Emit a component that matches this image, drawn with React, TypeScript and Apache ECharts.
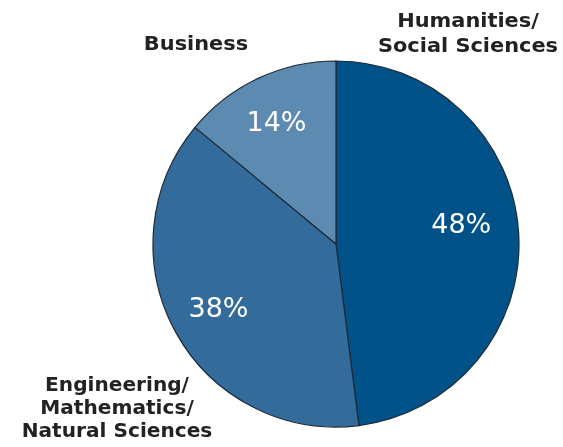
import React, { useEffect, useRef } from "react";
import * as echarts from "echarts";

const categories = ["Humanities/\nSocial Sciences", "Engineering/\nMathematics/\nNatural Sciences", "Business"];
const values = [48, 38, 14];
const colors = ["#02528a", "#336b9b", "#5c8ab0"];

export default function App() {
  const ref = useRef<HTMLDivElement>(null);
  useEffect(() => {
    const chart = echarts.init(ref.current!, null, { renderer: "svg" });
    const data = categories.map((c, i) => ({ name: c, value: values[i], itemStyle: { color: colors[i] } }));
    const labelFont = { fontFamily: "DejaVu Sans", fontWeight: "bold", fontSize: 19, fill: "#222", lineHeight: 24 };
    const labelOffsets = [[-12, -12], [3, -3], [-1, 2]];
    chart.setOption({
      animation: false,
      graphic: [
        { type: "text", x: 468, y: 8, scaleX: 1.1, style: { ...labelFont, text: categories[0], textAlign: "center", lineHeight: 25 } },
        { type: "text", x: 117, y: 373, scaleX: 1.06, style: { ...labelFont, text: categories[1], textAlign: "center", lineHeight: 23 } },
        { type: "text", x: 196, y: 31, scaleX: 1.1, style: { ...labelFont, text: categories[2], textAlign: "center" } },
      ],
      series: [
        {
          type: "pie",
          center: [336, 244],
          radius: [0, 183],
          startAngle: 90,
          clockwise: true,
          label: { show: false },
          labelLine: { show: false },
          itemStyle: { borderColor: "#1c2a38", borderWidth: 1.2 },
          emphasis: { disabled: true },
          data,
        },
        {
          type: "pie",
          center: [336, 244],
          radius: [86, 183],
          startAngle: 90,
          clockwise: true,
          silent: true,
          itemStyle: { color: "transparent", borderWidth: 0 },
          label: {
            show: true,
            position: "inside",
            formatter: "{c}%",
            color: "#ffffff",
            fontFamily: "DejaVu Sans",
            fontSize: 27,
          },
          labelLine: { show: false },
          emphasis: { disabled: true },
          data: categories.map((c, i) => ({ name: c, value: values[i], label: { offset: labelOffsets[i] } })),
        },
      ],
    });
    return () => chart.dispose();
  }, []);
  return <div ref={ref} style={{ position: "fixed", left: 0, top: 0, width: 563, height: 447 }} />;
}
